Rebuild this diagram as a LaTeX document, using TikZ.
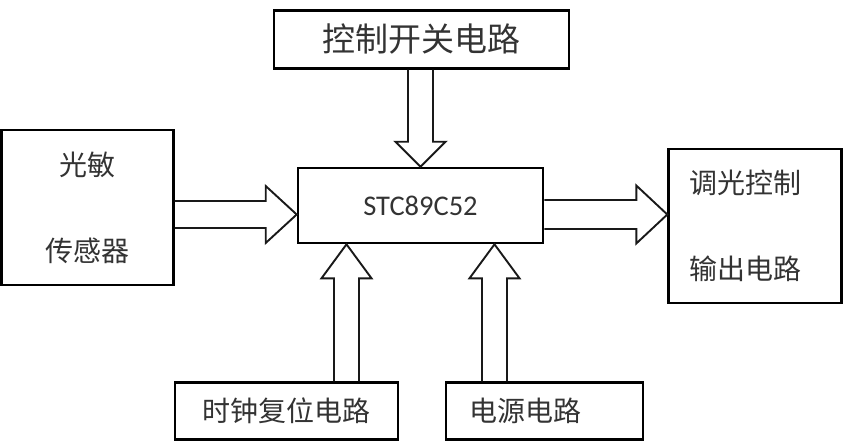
\documentclass[tikz,border=0pt]{standalone}
\usepackage{fontspec}
\setmainfont{Carlito}
\newfontfamily\cjk{Noto Sans CJK SC}
\usetikzlibrary{calc,positioning}
\tikzset{
blockstyle/.style={
  rectangle,
  line width=2.6pt,
  inner sep=0pt,
  align=center,
  draw=black,
  text=black!80,
  font=\cjk\fontsize{28}{86}\selectfont,
  }
}
\tikzset{
fatline/.style={
  line width=1.9pt,
  line join=miter,
  draw=black!90,
  }
}
% hollow arrow: start, tip, shaft half width, head half width, head length
\newcommand{\fatarrow}[5]{%
  \coordinate (hb) at ($(#2)!#5!(#1)$);
  \draw[fatline] ($(#1)!#3!90:(#2)$) -- ($(hb)!#3!-90:(#1)$) -- ($(hb)!#4!-90:(#1)$) -- (#2)
     -- ($(hb)!#4!90:(#1)$) -- ($(hb)!#3!90:(#1)$) -- ($(#1)!#3!-90:(#2)$);
}

\begin{document}
\begin{tikzpicture}[x=1pt,y=-1pt]
    \useasboundingbox (0,0) rectangle (846,444);
    \node[blockstyle, minimum width=245pt, minimum height=75pt, font=\fontsize{28.5}{32}\selectfont] (mcu) at (420.5,205.5) {STC89C52};
    \node[blockstyle, minimum width=295pt, minimum height=58pt, font=\cjk\fontsize{33}{40}\selectfont, above=97pt of mcu, xshift=1pt] (ctl) {控制开关电路};
    \node[blockstyle, minimum width=172pt, minimum height=155pt, left=122pt of mcu, yshift=-2pt] (sens) {光敏\\传感器};
    \node[blockstyle, minimum height=154pt, inner xsep=21pt, text width=131pt, align=left, right=123pt of mcu, yshift=-20.5pt] (out) {调光控制\\输出电路};
    \node[blockstyle, minimum width=223pt, minimum height=57pt, below=137pt of mcu, xshift=-134pt] (clk) {时钟复位电路};
    \node[blockstyle, minimum height=57pt, inner xsep=23pt, text width=151pt, align=left, below=137pt of mcu, xshift=124pt] (pwr) {电源电路};

    \coordinate (inL) at ($(mcu.west)+(0,9)$);
    \coordinate (sensout) at (sens.east |- inL);
    \coordinate (mcuout) at ($(mcu.east)+(0,9)$);
    \coordinate (outin) at (out.west |- mcuout);
    \coordinate (ctlout) at (mcu.north |- ctl.south);
    \coordinate (inClk) at ($(mcu.south)+(-74,0)$);
    \coordinate (clkout) at (inClk |- clk.north);
    \coordinate (inPwr) at ($(mcu.south)+(74,0)$);
    \coordinate (pwrout) at (inPwr |- pwr.north);

    \fatarrow{sensout}{inL}{13.5pt}{28.5pt}{31pt}
    \fatarrow{mcuout}{outin}{14.5pt}{29pt}{31pt}
    \fatarrow{ctlout}{mcu.north}{12.5pt}{25pt}{25pt}
    \fatarrow{clkout}{inClk}{12.5pt}{25pt}{34pt}
    \fatarrow{pwrout}{inPwr}{12.5pt}{25pt}{34pt}
\end{tikzpicture}
\end{document}
